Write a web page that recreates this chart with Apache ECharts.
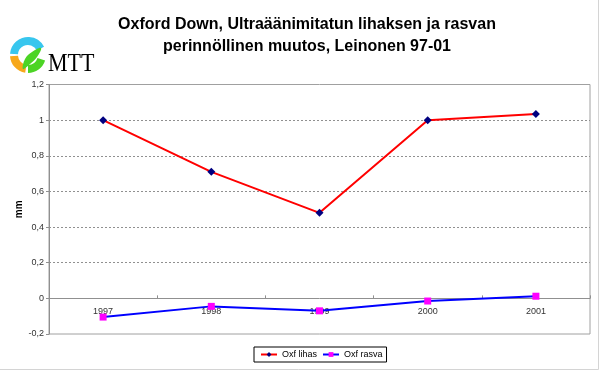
<!DOCTYPE html>
<html><head><meta charset="utf-8">
<script src="https://cdn.jsdelivr.net/npm/echarts@6/dist/echarts.min.js"></script>
<style>html,body{margin:0;padding:0;background:#fff}#c{width:600px;height:372px}</style>
</head><body><div id="c"></div>
<script>
const categories = ['1997', '1998', '1999', '2000', '2001'];
const lihas = [1.0, 0.71, 0.48, 1.0, 1.035];
const rasva = [-0.105, -0.045, -0.07, -0.015, 0.012];
const yTicks = [-0.2, 0, 0.2, 0.4, 0.6, 0.8, 1.0, 1.2];

const chart = echarts.init(document.getElementById('c'), null, {renderer: 'canvas'});
const P = Math.PI;
const gridTop = 84.5, gridBottom = 38;
const plotH = 372 - gridTop - gridBottom;
const zeroOffset = -plotH * (0 - yTicks[0]) / (yTicks[yTicks.length - 1] - yTicks[0]);
chart.setOption({
  animation: false,
  backgroundColor: '#fff',
  title: {
    text: 'Oxford Down, Ultraäänimitatun lihaksen ja rasvan\nperinnöllinen muutos, Leinonen 97-01',
    left: 307, top: 14, textAlign: 'center', padding: 0,
    textStyle: {fontFamily: 'Liberation Sans', fontSize: 16, fontWeight: 'bold', color: '#000', lineHeight: 22}
  },
  legend: {
    left: 254, top: 347, padding: [3, 4, 3, 6], itemGap: 5,
    borderColor: '#000', borderWidth: 1,
    itemWidth: 16, itemHeight: 6,
    textStyle: {fontFamily: 'Liberation Sans', fontSize: 9, color: '#000'},
    data: ['Oxf lihas', 'Oxf rasva']
  },
  grid: {left: 49, right: 10, top: gridTop, bottom: gridBottom, show: true, borderColor: '#a0a0a0', borderWidth: 1},
  xAxis: {
    type: 'category', data: categories, boundaryGap: true, offset: zeroOffset,
    axisLine: {onZero: false, lineStyle: {color: '#909090', width: 1}},
    axisTick: {show: true, length: 3, inside: true, lineStyle: {color: '#909090'}},
    axisLabel: {fontFamily: 'Liberation Sans', fontSize: 9, color: '#333', margin: 9}
  },
  yAxis: {
    type: 'value', min: yTicks[0], max: yTicks[yTicks.length - 1], interval: 0.2,
    name: 'mm', nameLocation: 'middle', nameGap: 25, nameMoveOverlap: false,
    nameTextStyle: {fontFamily: 'Liberation Sans', fontSize: 10, fontWeight: 'bold', color: '#000'},
    axisLine: {show: true, lineStyle: {color: '#909090'}},
    axisTick: {show: true, length: 3, lineStyle: {color: '#909090'}},
    axisLabel: {fontFamily: 'Liberation Sans', fontSize: 9, color: '#333', margin: 5,
      formatter: v => String(Math.round(v * 10) / 10).replace('.', ',')},
    splitLine: {show: true, showMinLine: false, showMaxLine: false, lineStyle: {color: '#909090', type: [2, 2], width: 1}}
  },
  series: [
    {name: 'Oxf lihas', type: 'line', data: lihas, symbol: 'diamond', symbolSize: 8,
      lineStyle: {color: '#ff0000', width: 2}, itemStyle: {color: '#000080'}, z: 3},
    {name: 'Oxf rasva', type: 'line', data: rasva, symbol: 'rect', symbolSize: 7,
      lineStyle: {color: '#0000ff', width: 2}, itemStyle: {color: '#ff00ff'}, z: 3}
  ],
  graphic: [
    {type: 'rect', shape: {x: -1, y: -1, width: 599.5, height: 370.5}, style: {fill: 'none', stroke: '#d4d4d4', lineWidth: 1}, silent: true},
    {type: 'sector', shape: {cx: 28, cy: 55, r: 18, r0: 10, startAngle: P * 1.02, endAngle: P * 1.85, clockwise: true}, style: {fill: '#38c6ee'}},
    {type: 'sector', shape: {cx: 28, cy: 55, r: 18, r0: 10, startAngle: P * 0.55, endAngle: P * 0.98, clockwise: true}, style: {fill: '#f7a81b'}},
    {type: 'sector', shape: {cx: 28, cy: 55, r: 18, r0: 10, startAngle: P * 0.1, endAngle: P * 0.5, clockwise: true}, style: {fill: '#4cd425'}},
    {type: 'polygon', shape: {points: [[23, 69], [25, 59], [32, 52], [41, 48], [37, 57], [30, 64]], smooth: 0.4}, style: {fill: '#4cd425'}},
    {type: 'text', x: 48, y: 53, scaleY: 1.1, style: {text: 'MTT', font: '22px "Liberation Serif"', fill: '#000'}}
  ]
});
</script></body></html>
